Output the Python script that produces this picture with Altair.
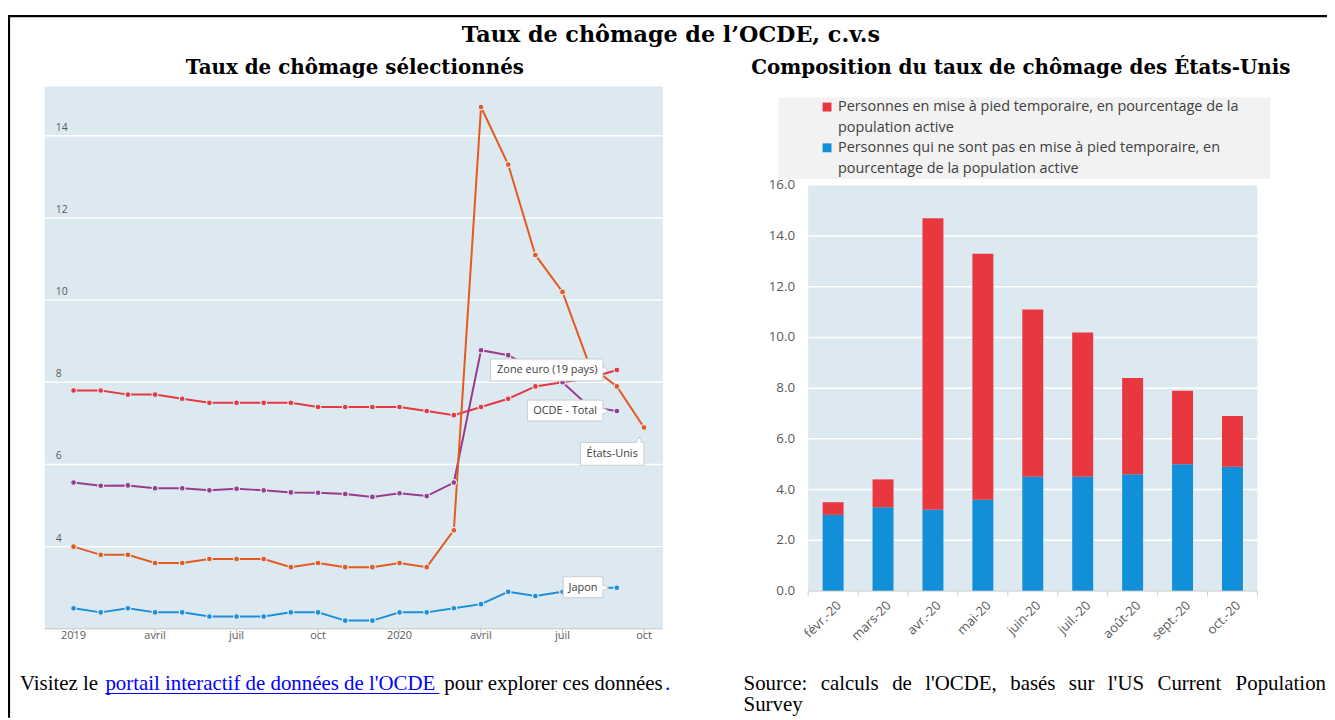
import altair as alt
import pandas as pd

# ---------------- data ----------------
MONTHS = ["2019-01", "2019-02", "2019-03", "2019-04", "2019-05", "2019-06", "2019-07",
          "2019-08", "2019-09", "2019-10", "2019-11", "2019-12", "2020-01", "2020-02",
          "2020-03", "2020-04", "2020-05", "2020-06", "2020-07", "2020-08", "2020-09", "2020-10"]
EURO = [7.8, 7.8, 7.7, 7.7, 7.6, 7.5, 7.5, 7.5, 7.5, 7.4, 7.4, 7.4, 7.4, 7.3, 7.2,
        7.4, 7.6, 7.9, 8.0, 8.1, 8.3, None]
OCDE = [5.56, 5.48, 5.49, 5.42, 5.42, 5.37, 5.41, 5.37, 5.32, 5.31, 5.28, 5.21, 5.30, 5.23, 5.56,
        8.78, 8.66, 8.3, 8.0, 7.4, 7.3, None]
USA = [4.0, 3.8, 3.8, 3.6, 3.6, 3.7, 3.7, 3.7, 3.5, 3.6, 3.5, 3.5, 3.6, 3.5, 4.4,
       14.7, 13.3, 11.1, 10.2, 8.4, 7.9, 6.9]
JAPON = [2.5, 2.4, 2.5, 2.4, 2.4, 2.3, 2.3, 2.3, 2.4, 2.4, 2.2, 2.2, 2.4, 2.4, 2.5,
         2.6, 2.9, 2.8, 2.9, 3.0, 3.0, None]
SERIES = ["Zone euro (19 pays)", "OCDE - Total", "États-Unis", "Japon"]
SERIES_COLORS = ["#E8373F", "#993A8F", "#E5591C", "#1C8FDA"]
X_TICK_IDX = [0, 3, 6, 9, 12, 15, 18, 21]
X_TICK_LABELS = ["2019", "avril", "juil", "oct", "2020", "avril", "juil", "oct"]
Y_TICKS_L = [4, 6, 8, 10, 12, 14]

CATS = ["févr.-20", "mars-20", "avr.-20", "mai-20", "juin-20", "juil.-20", "août-20", "sept.-20", "oct.-20"]
NON_TEMP = [3.0, 3.3, 3.2, 3.6, 4.5, 4.5, 4.6, 5.0, 4.9]
TEMP = [0.5, 1.1, 11.5, 9.7, 6.6, 5.7, 3.8, 2.9, 2.0]
TYPES = ["Personnes en mise à pied temporaire", "Personnes qui ne sont pas en mise à pied temporaire"]
TYPE_COLORS = ["#E8373F", "#128FD9"]
Y_TICKS_R = [0, 2, 4, 6, 8, 10, 12, 14, 16]
GRID_R = [2, 4, 6, 8, 10, 12, 14]

# ---------------- tables ----------------
rows = []
for name, vals in zip(SERIES, [EURO, OCDE, USA, JAPON]):
    for i, v in enumerate(vals):
        if v is not None:
            rows.append({"serie": name, "idx": i, "mois": MONTHS[i], "val": v})
df_lines = pd.DataFrame(rows)

brows = []
for c, nt, t in zip(CATS, NON_TEMP, TEMP):
    brows.append({"cat": c, "type": TYPES[1], "value": nt, "ord": 0})
    brows.append({"cat": c, "type": TYPES[0], "value": t, "ord": 1})
df_bars = pd.DataFrame(brows)

ONE = pd.DataFrame({"k": [0]})

BG = "#DDE9F1"
TICKFONT = "Open Sans"
TITLEFONT = "DejaVu Serif"
FOOTFONT = "Liberation Serif"

# ---------------- scales ----------------
XL = alt.Scale(domain=[-1.06, 21.70], range=[37, 659], nice=False, zero=False)
YL = alt.Scale(domain=[2, 15.2], range=[622.4, 76.8], nice=False, zero=False)
COL = alt.Scale(domain=SERIES, range=SERIES_COLORS)

XR = alt.Scale(domain=CATS, range=[805, 1257], paddingInner=0.58, paddingOuter=0.29)
YR = alt.Scale(domain=[0, 16], range=[584.3, 176.3], nice=False, zero=False)
COLR = alt.Scale(domain=TYPES, range=TYPE_COLORS)


def vtext(s, x, y, size, font, color="#000000", weight="normal", align="left",
          baseline="alphabetic"):
    return alt.Chart(ONE).mark_text(
        text=s, fontSize=size, font=font, color=color, fontWeight=weight,
        align=align, baseline=baseline
    ).encode(x=alt.value(x), y=alt.value(y))


# ---------------- left panel ----------------
xenc = alt.X("idx:Q", scale=XL, axis=None)
yenc = alt.Y("val:Q", scale=YL, axis=None)

bgL = alt.Chart(ONE).mark_rect(color=BG).encode(
    x=alt.value(37), x2=alt.value(659), y=alt.value(76.8), y2=alt.value(622.4))
gridL = alt.Chart(pd.DataFrame({"t": Y_TICKS_L})).mark_rule(color="white", strokeWidth=1.5).encode(
    y=alt.Y("t:Q", scale=YL, axis=None), x=alt.value(37), x2=alt.value(659))
axisL = alt.Chart(ONE).mark_rule(color="#C4C4C4", strokeWidth=1).encode(
    x=alt.value(37), x2=alt.value(659), y=alt.value(622.4))
xt_df = pd.DataFrame({"i": X_TICK_IDX, "lab": X_TICK_LABELS})
ticksL = alt.Chart(xt_df).mark_rule(color="#C4C4C4").encode(
    x=alt.X("i:Q", scale=XL, axis=None), y=alt.value(622.4), y2=alt.value(627))
xlabL = alt.Chart(xt_df).mark_text(font=TICKFONT, fontSize=11, color="#595959", baseline="middle").encode(
    x=alt.X("i:Q", scale=XL, axis=None), y=alt.value(629.5), text="lab:N")
ylabL = alt.Chart(pd.DataFrame({"t": Y_TICKS_L})).mark_text(
    font=TICKFONT, fontSize=10.5, color="#595959", align="left", baseline="bottom", dy=-3).encode(
    y=alt.Y("t:Q", scale=YL, axis=None), x=alt.value(48), text="t:Q")

lines = alt.Chart(df_lines).mark_line(strokeWidth=2).encode(
    x=xenc, y=yenc, color=alt.Color("serie:N", scale=COL, legend=None), detail="serie:N")
points = alt.Chart(df_lines).mark_circle(size=34, opacity=1, stroke=BG, strokeWidth=1.2).encode(
    x=xenc, y=yenc, color=alt.Color("serie:N", scale=COL, legend=None))


def callout(text, i, v, x0, x1, y0, y1, tdx, tdy, shape, pdx, pdy):
    d = alt.Chart(pd.DataFrame({"idx": [i], "val": [v]}))
    rect = d.mark_rect(fill="white", stroke="#C9CED3", strokeWidth=1,
                       xOffset=x0, x2Offset=x1, yOffset=y0, y2Offset=y1).encode(
        x=xenc, x2="idx:Q", y=yenc, y2="val:Q")
    ptr = d.mark_point(shape=shape, filled=True, fill="white", stroke="#C9CED3",
                       strokeWidth=1, size=36, opacity=1, xOffset=pdx, yOffset=pdy).encode(x=xenc, y=yenc)
    cover = d.mark_point(shape=shape, filled=True, fill="white", strokeWidth=0,
                         size=22, opacity=1, xOffset=pdx - (1.5 if shape == "triangle-right" else 0),
                         yOffset=pdy + (1.5 if shape == "triangle-up" else 0)).encode(x=xenc, y=yenc)
    t = d.mark_text(text=text, font=TICKFONT, fontSize=11, color="#404040",
                    baseline="middle", align="center", dx=tdx, dy=tdy).encode(x=xenc, y=yenc)
    return [rect, ptr, cover, t]


labels = []
labels += callout("Zone euro (19 pays)", 20, 8.3, -127, -14, -11, 11, -70, 0, "triangle-right", -11, 0)
labels += callout("OCDE - Total", 20, 7.3, -90, -14, -11, 10, -52, 0, "triangle-right", -11, 0)
labels += callout("États-Unis", 21, 6.9, -64, 0, 15, 38, -32, 26.5, "triangle-up", -5, 12)
labels += callout("Japon", 20, 3.0, -54, -14, -11, 10, -34, 0, "triangle-right", -11, 0)

left = alt.layer(bgL, gridL, axisL, ticksL, xlabL, ylabL, lines, points, *labels)

# ---------------- right panel ----------------
bgR = alt.Chart(ONE).mark_rect(color=BG).encode(
    x=alt.value(805), x2=alt.value(1257), y=alt.value(176.3), y2=alt.value(584.3))
gridR = alt.Chart(pd.DataFrame({"t": GRID_R})).mark_rule(color="white", strokeWidth=1.5).encode(
    y=alt.Y("t:Q", scale=YR, axis=None), x=alt.value(805), x2=alt.value(1257))
bars = alt.Chart(df_bars).mark_bar().encode(
    x=alt.X("cat:N", scale=XR, axis=None, sort=CATS),
    y=alt.Y("value:Q", scale=YR, axis=None, stack="zero"),
    color=alt.Color("type:N", scale=COLR, legend=None),
    order=alt.Order("ord:Q"))
axisR = alt.Chart(ONE).mark_rule(color="#D0D0D0", strokeWidth=1).encode(
    x=alt.value(805), x2=alt.value(1257), y=alt.value(584.5))
cat_df = pd.DataFrame({"cat": CATS})
ticksR = alt.Chart(cat_df).mark_rule(color="#D0D0D0", xOffset=-14.56).encode(
    x=alt.X("cat:N", scale=XR, axis=None, sort=CATS, bandPosition=0),
    y=alt.value(584.5), y2=alt.value(590))
tickEnd = alt.Chart(ONE).mark_rule(color="#D0D0D0").encode(
    x=alt.value(1257), y=alt.value(584.5), y2=alt.value(590))
xlabR = alt.Chart(cat_df).mark_text(font=TICKFONT, fontSize=13, color="#595959",
                                    angle=315, align="right", baseline="middle", xOffset=6).encode(
    x=alt.X("cat:N", scale=XR, axis=None, sort=CATS), y=alt.value(597), text="cat:N")
ylabR = alt.Chart(pd.DataFrame({"t": Y_TICKS_R})).mark_text(
    font=TICKFONT, fontSize=13.5, color="#595959", align="right", baseline="middle").encode(
    y=alt.Y("t:Q", scale=YR, axis=None), x=alt.value(792), text=alt.Text("t:Q", format=".1f"))

right = alt.layer(bgR, gridR, bars, axisR, ticksR, tickEnd, xlabR, ylabR)

# ---------------- legend (right panel) ----------------
legbox = alt.Chart(ONE).mark_rect(color="#F2F2F2").encode(
    x=alt.value(775), x2=alt.value(1270), y=alt.value(88), y2=alt.value(170))
sq1 = alt.Chart(ONE).mark_square(size=81, opacity=1, color=TYPE_COLORS[0]).encode(
    x=alt.value(824), y=alt.value(97.5))
sq2 = alt.Chart(ONE).mark_square(size=81, opacity=1, color=TYPE_COLORS[1]).encode(
    x=alt.value(824), y=alt.value(138.5))
LEGFS = 14.5
leg_texts = [
    vtext("Personnes en mise à pied temporaire, en pourcentage de la", 835, 97.5, LEGFS, TICKFONT, "#404040", baseline="middle"),
    vtext("population active", 835, 118.5, LEGFS, TICKFONT, "#404040", baseline="middle"),
    vtext("Personnes qui ne sont pas en mise à pied temporaire, en", 835, 138.5, LEGFS, TICKFONT, "#404040", baseline="middle"),
    vtext("pourcentage de la population active", 835, 159.5, LEGFS, TICKFONT, "#404040", baseline="middle"),
]

# ---------------- titles, footer, frame ----------------
titles = [
    vtext("Taux de chômage de l’OCDE, c.v.s", 667, 32, 22.4, TITLEFONT, weight="bold", align="center"),
    vtext("Taux de chômage sélectionnés", 349, 64, 20, TITLEFONT, weight="bold", align="center"),
    vtext("Composition du taux de chômage des États-Unis", 1019, 64, 20, TITLEFONT, weight="bold", align="center"),
]

FS = 21
footer = [
    vtext("Visitez le", 12, 683.5, FS, FOOTFONT),
    vtext("portail interactif de données de l'OCDE", 98, 683.5, FS, FOOTFONT, "#0000FF"),
    vtext("pour explorer ces données", 439, 683.5, FS, FOOTFONT),
    vtext(".", 661, 683.5, FS, FOOTFONT, "#0000FF"),
    alt.Chart(ONE).mark_rule(color="#0000FF", strokeWidth=1).encode(
        x=alt.value(98), x2=alt.value(434), y=alt.value(687.5)),
]
SRC_WORDS = ["Source:", "calculs", "de", "l'OCDE,", "basés", "sur", "l'US", "Current"]
SRC_X = [740, 817.7, 889.5, 922.8, 1008.3, 1067.3, 1106.5, 1156.5]
for w, xx in zip(SRC_WORDS, SRC_X):
    footer.append(vtext(w, xx, 683.5, FS, FOOTFONT))
footer.append(vtext("Population", 1326, 683.5, FS, FOOTFONT, align="right"))
footer.append(vtext("Survey", 740, 705.5, FS, FOOTFONT))

frame = [
    alt.Chart(ONE).mark_rule(color="black", strokeWidth=2.2).encode(
        x=alt.value(0), x2=alt.value(1327), y=alt.value(6)),
    alt.Chart(ONE).mark_rule(color="black", strokeWidth=2.2).encode(
        x=alt.value(1), y=alt.value(5), y2=alt.value(712)),
]

chart = alt.layer(
    left, right, legbox, sq1, sq2, *leg_texts, *titles, *footer, *frame
).resolve_scale(
    x="independent", y="independent", color="independent"
).properties(
    width=1327, height=712, padding=0,
    autosize=alt.AutoSizeParams(type="none"),
    background="white",
).configure_view(stroke=None)

chart.save("out.html", embed_options={"renderer": "svg", "actions": False})
